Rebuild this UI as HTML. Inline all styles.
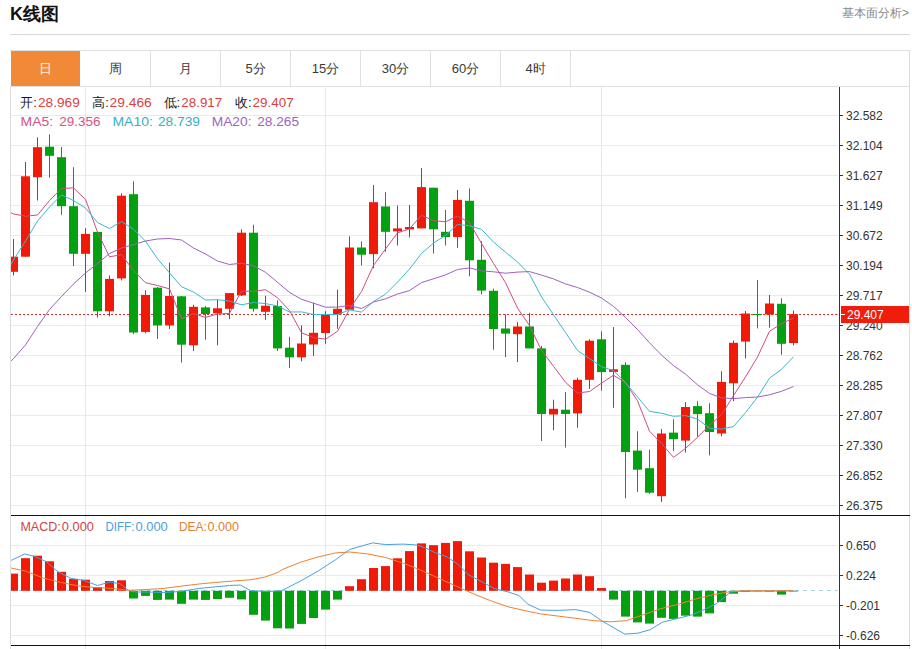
<!DOCTYPE html>
<html><head><meta charset="utf-8"><style>
html,body{margin:0;padding:0;background:#fff;width:912px;height:649px;overflow:hidden;font-family:"Liberation Sans",sans-serif;}
.title{position:absolute;left:10px;top:2px;font-size:18px;font-weight:bold;color:#111;}
.more{position:absolute;right:3px;top:5px;font-size:12px;color:#888;}
.hr{position:absolute;left:10px;top:34px;width:900px;height:1px;background:#d8d8d8;}
.tabs{position:absolute;left:10px;top:50px;width:900px;height:37px;border-top:1px solid #e0e0e0;border-bottom:1px solid #e0e0e0;box-sizing:border-box;}
.tab{position:absolute;top:51px;height:35px;line-height:35px;text-align:center;font-size:13px;color:#3a3a3a;box-sizing:border-box;border-right:1px solid #e0e0e0;}
.tab.on{background:#f18a36;color:#fff8e6;border-right:none;}
svg{position:absolute;left:0;top:0;}
.ax{font-size:12px;fill:#333;font-family:"Liberation Sans",sans-serif;}
.info{position:absolute;left:20px;top:95px;font-size:13px;color:#222;white-space:nowrap;}
.info span.v{color:#e03a3a;}
.ma{position:absolute;left:20px;top:113px;font-size:13px;white-space:nowrap;}
.macd{position:absolute;left:20px;top:519px;font-size:12px;white-space:nowrap;}
</style></head><body>
<div class="title">K线图</div>
<div class="more">基本面分析&gt;</div>
<div class="hr"></div>
<div class="tabs"></div>
<svg width="912" height="649" viewBox="0 0 912 649">
<line x1="11" y1="115.5" x2="838" y2="115.5" stroke="#eaeaea"/>
<line x1="11" y1="145.5" x2="838" y2="145.5" stroke="#eaeaea"/>
<line x1="11" y1="175.5" x2="838" y2="175.5" stroke="#eaeaea"/>
<line x1="11" y1="205.5" x2="838" y2="205.5" stroke="#eaeaea"/>
<line x1="11" y1="235.5" x2="838" y2="235.5" stroke="#eaeaea"/>
<line x1="11" y1="265.5" x2="838" y2="265.5" stroke="#eaeaea"/>
<line x1="11" y1="295.5" x2="838" y2="295.5" stroke="#eaeaea"/>
<line x1="11" y1="325.5" x2="838" y2="325.5" stroke="#eaeaea"/>
<line x1="11" y1="355.5" x2="838" y2="355.5" stroke="#eaeaea"/>
<line x1="11" y1="385.5" x2="838" y2="385.5" stroke="#eaeaea"/>
<line x1="11" y1="415.5" x2="838" y2="415.5" stroke="#eaeaea"/>
<line x1="11" y1="445.5" x2="838" y2="445.5" stroke="#eaeaea"/>
<line x1="11" y1="475.5" x2="838" y2="475.5" stroke="#eaeaea"/>
<line x1="11" y1="505.5" x2="838" y2="505.5" stroke="#eaeaea"/>
<line x1="11" y1="545.5" x2="838" y2="545.5" stroke="#eaeaea"/>
<line x1="11" y1="575.5" x2="838" y2="575.5" stroke="#eaeaea"/>
<line x1="11" y1="605.5" x2="838" y2="605.5" stroke="#eaeaea"/>
<line x1="11" y1="635.5" x2="838" y2="635.5" stroke="#eaeaea"/>
<line x1="85.5" y1="86" x2="85.5" y2="649" stroke="#e4e8ee"/>
<line x1="325.5" y1="86" x2="325.5" y2="649" stroke="#e4e8ee"/>
<line x1="601.5" y1="86" x2="601.5" y2="649" stroke="#e4e8ee"/>
<line x1="10.5" y1="86" x2="10.5" y2="649" stroke="#ddd"/>
<line x1="909.5" y1="50" x2="909.5" y2="649" stroke="#ddd"/>
<line x1="11" y1="314.5" x2="838" y2="314.5" stroke="#d83030" stroke-dasharray="2,2"/>
<rect x="13.0" y="239.0" width="1" height="36.5" fill="#f01a08"/>
<rect x="9.0" y="256.7" width="9" height="15.1" fill="#f01a08"/>
<rect x="25.0" y="162.0" width="1" height="94.7" fill="#f01a08"/>
<rect x="21.0" y="176.3" width="9" height="80.4" fill="#f01a08"/>
<rect x="37.0" y="137.3" width="1" height="63.2" fill="#f01a08"/>
<rect x="33.0" y="147.2" width="9" height="30.0" fill="#f01a08"/>
<rect x="49.0" y="134.4" width="1" height="43.3" fill="#04a010"/>
<rect x="45.0" y="146.7" width="9" height="9.1" fill="#04a010"/>
<rect x="61.0" y="147.0" width="1" height="67.8" fill="#04a010"/>
<rect x="57.0" y="157.2" width="9" height="49.0" fill="#04a010"/>
<rect x="73.0" y="167.2" width="1" height="98.9" fill="#04a010"/>
<rect x="69.0" y="206.2" width="9" height="47.6" fill="#04a010"/>
<rect x="85.0" y="228.2" width="1" height="63.6" fill="#f01a08"/>
<rect x="81.0" y="233.9" width="9" height="19.9" fill="#f01a08"/>
<rect x="97.0" y="231.9" width="1" height="85.7" fill="#04a010"/>
<rect x="93.0" y="231.9" width="9" height="79.4" fill="#04a010"/>
<rect x="109.0" y="275.5" width="1" height="40.9" fill="#f01a08"/>
<rect x="105.0" y="278.9" width="9" height="32.4" fill="#f01a08"/>
<rect x="121.0" y="193.4" width="1" height="87.0" fill="#f01a08"/>
<rect x="117.0" y="195.7" width="9" height="82.7" fill="#f01a08"/>
<rect x="133.0" y="181.4" width="1" height="152.6" fill="#04a010"/>
<rect x="129.0" y="194.2" width="9" height="138.3" fill="#04a010"/>
<rect x="145.0" y="290.3" width="1" height="43.0" fill="#f01a08"/>
<rect x="141.0" y="294.9" width="9" height="37.0" fill="#f01a08"/>
<rect x="157.0" y="287.0" width="1" height="52.0" fill="#04a010"/>
<rect x="153.0" y="287.7" width="9" height="37.7" fill="#04a010"/>
<rect x="169.0" y="262.6" width="1" height="66.4" fill="#f01a08"/>
<rect x="165.0" y="296.0" width="9" height="29.4" fill="#f01a08"/>
<rect x="181.0" y="296.0" width="1" height="66.5" fill="#04a010"/>
<rect x="177.0" y="296.3" width="9" height="48.4" fill="#04a010"/>
<rect x="193.0" y="304.8" width="1" height="46.2" fill="#f01a08"/>
<rect x="189.0" y="306.8" width="9" height="38.5" fill="#f01a08"/>
<rect x="205.0" y="306.0" width="1" height="33.6" fill="#04a010"/>
<rect x="201.0" y="307.4" width="9" height="6.6" fill="#04a010"/>
<rect x="217.0" y="299.7" width="1" height="45.6" fill="#f01a08"/>
<rect x="213.0" y="308.3" width="9" height="5.1" fill="#f01a08"/>
<rect x="229.0" y="293.0" width="1" height="26.1" fill="#f01a08"/>
<rect x="225.0" y="293.1" width="9" height="15.7" fill="#f01a08"/>
<rect x="241.0" y="229.3" width="1" height="66.7" fill="#f01a08"/>
<rect x="237.0" y="232.7" width="9" height="62.7" fill="#f01a08"/>
<rect x="253.0" y="224.7" width="1" height="87.0" fill="#04a010"/>
<rect x="249.0" y="232.7" width="9" height="76.1" fill="#04a010"/>
<rect x="265.0" y="295.7" width="1" height="24.0" fill="#f01a08"/>
<rect x="261.0" y="305.7" width="9" height="6.1" fill="#f01a08"/>
<rect x="277.0" y="300.3" width="1" height="50.7" fill="#04a010"/>
<rect x="273.0" y="306.0" width="9" height="42.4" fill="#04a010"/>
<rect x="289.0" y="336.8" width="1" height="31.3" fill="#04a010"/>
<rect x="285.0" y="347.7" width="9" height="9.6" fill="#04a010"/>
<rect x="301.0" y="325.4" width="1" height="35.9" fill="#f01a08"/>
<rect x="297.0" y="343.5" width="9" height="13.8" fill="#f01a08"/>
<rect x="313.0" y="302.8" width="1" height="53.1" fill="#f01a08"/>
<rect x="309.0" y="332.8" width="9" height="11.7" fill="#f01a08"/>
<rect x="325.0" y="311.1" width="1" height="32.8" fill="#f01a08"/>
<rect x="321.0" y="314.0" width="9" height="19.0" fill="#f01a08"/>
<rect x="337.0" y="289.7" width="1" height="39.1" fill="#f01a08"/>
<rect x="333.0" y="308.8" width="9" height="5.4" fill="#f01a08"/>
<rect x="349.0" y="236.4" width="1" height="73.6" fill="#f01a08"/>
<rect x="345.0" y="247.5" width="9" height="62.2" fill="#f01a08"/>
<rect x="361.0" y="241.3" width="1" height="24.2" fill="#04a010"/>
<rect x="357.0" y="247.5" width="9" height="7.2" fill="#04a010"/>
<rect x="373.0" y="185.1" width="1" height="83.2" fill="#f01a08"/>
<rect x="369.0" y="202.2" width="9" height="51.9" fill="#f01a08"/>
<rect x="385.0" y="192.2" width="1" height="59.6" fill="#04a010"/>
<rect x="381.0" y="206.5" width="9" height="25.3" fill="#04a010"/>
<rect x="397.0" y="205.6" width="1" height="39.9" fill="#f01a08"/>
<rect x="393.0" y="228.4" width="9" height="2.9" fill="#f01a08"/>
<rect x="409.0" y="205.0" width="1" height="32.5" fill="#f01a08"/>
<rect x="405.0" y="227.0" width="9" height="2.3" fill="#f01a08"/>
<rect x="421.0" y="168.0" width="1" height="60.4" fill="#f01a08"/>
<rect x="417.0" y="187.1" width="9" height="41.3" fill="#f01a08"/>
<rect x="433.0" y="187.7" width="1" height="65.8" fill="#04a010"/>
<rect x="429.0" y="187.7" width="9" height="41.6" fill="#04a010"/>
<rect x="445.0" y="209.9" width="1" height="35.6" fill="#04a010"/>
<rect x="441.0" y="231.8" width="9" height="5.2" fill="#04a010"/>
<rect x="457.0" y="189.9" width="1" height="57.9" fill="#f01a08"/>
<rect x="453.0" y="199.9" width="9" height="37.1" fill="#f01a08"/>
<rect x="469.0" y="188.5" width="1" height="87.8" fill="#04a010"/>
<rect x="465.0" y="200.8" width="9" height="59.5" fill="#04a010"/>
<rect x="481.0" y="241.2" width="1" height="53.3" fill="#04a010"/>
<rect x="477.0" y="259.8" width="9" height="30.8" fill="#04a010"/>
<rect x="493.0" y="288.6" width="1" height="61.2" fill="#04a010"/>
<rect x="489.0" y="290.8" width="9" height="38.2" fill="#04a010"/>
<rect x="505.0" y="314.2" width="1" height="42.8" fill="#04a010"/>
<rect x="501.0" y="328.5" width="9" height="5.1" fill="#04a010"/>
<rect x="517.0" y="322.2" width="1" height="39.9" fill="#f01a08"/>
<rect x="513.0" y="326.5" width="9" height="7.7" fill="#f01a08"/>
<rect x="529.0" y="312.8" width="1" height="35.6" fill="#04a010"/>
<rect x="525.0" y="326.5" width="9" height="21.9" fill="#04a010"/>
<rect x="541.0" y="346.0" width="1" height="95.0" fill="#04a010"/>
<rect x="537.0" y="348.4" width="9" height="65.6" fill="#04a010"/>
<rect x="553.0" y="399.7" width="1" height="30.5" fill="#f01a08"/>
<rect x="549.0" y="408.8" width="9" height="5.7" fill="#f01a08"/>
<rect x="565.0" y="392.0" width="1" height="55.6" fill="#04a010"/>
<rect x="561.0" y="409.7" width="9" height="4.3" fill="#04a010"/>
<rect x="577.0" y="377.8" width="1" height="49.9" fill="#f01a08"/>
<rect x="573.0" y="379.8" width="9" height="33.6" fill="#f01a08"/>
<rect x="589.0" y="339.3" width="1" height="49.6" fill="#f01a08"/>
<rect x="585.0" y="340.7" width="9" height="39.1" fill="#f01a08"/>
<rect x="601.0" y="331.3" width="1" height="59.3" fill="#04a010"/>
<rect x="597.0" y="339.3" width="9" height="32.8" fill="#04a010"/>
<rect x="613.0" y="327.1" width="1" height="80.7" fill="#f01a08"/>
<rect x="609.0" y="369.3" width="9" height="2.6" fill="#f01a08"/>
<rect x="625.0" y="362.2" width="1" height="136.0" fill="#04a010"/>
<rect x="621.0" y="364.8" width="9" height="87.2" fill="#04a010"/>
<rect x="637.0" y="431.2" width="1" height="60.7" fill="#04a010"/>
<rect x="633.0" y="450.6" width="9" height="19.1" fill="#04a010"/>
<rect x="649.0" y="449.7" width="1" height="44.2" fill="#04a010"/>
<rect x="645.0" y="468.2" width="9" height="24.5" fill="#04a010"/>
<rect x="661.0" y="428.9" width="1" height="73.0" fill="#f01a08"/>
<rect x="657.0" y="433.5" width="9" height="62.7" fill="#f01a08"/>
<rect x="673.0" y="419.2" width="1" height="31.9" fill="#04a010"/>
<rect x="669.0" y="432.6" width="9" height="6.6" fill="#04a010"/>
<rect x="685.0" y="402.1" width="1" height="50.5" fill="#f01a08"/>
<rect x="681.0" y="407.0" width="9" height="33.6" fill="#f01a08"/>
<rect x="697.0" y="401.2" width="1" height="35.7" fill="#04a010"/>
<rect x="693.0" y="406.1" width="9" height="8.0" fill="#04a010"/>
<rect x="709.0" y="403.2" width="1" height="52.2" fill="#04a010"/>
<rect x="705.0" y="413.2" width="9" height="18.8" fill="#04a010"/>
<rect x="721.0" y="371.3" width="1" height="65.0" fill="#f01a08"/>
<rect x="717.0" y="381.9" width="9" height="51.6" fill="#f01a08"/>
<rect x="733.0" y="340.5" width="1" height="60.7" fill="#f01a08"/>
<rect x="729.0" y="342.8" width="9" height="40.5" fill="#f01a08"/>
<rect x="745.0" y="311.0" width="1" height="47.4" fill="#f01a08"/>
<rect x="741.0" y="313.5" width="9" height="28.1" fill="#f01a08"/>
<rect x="757.0" y="280.0" width="1" height="48.4" fill="#04a010"/>
<rect x="753.0" y="314.0" width="9" height="1.0" fill="#04a010"/>
<rect x="769.0" y="295.0" width="1" height="32.7" fill="#f01a08"/>
<rect x="765.0" y="303.5" width="9" height="11.0" fill="#f01a08"/>
<rect x="781.0" y="298.2" width="1" height="56.6" fill="#04a010"/>
<rect x="777.0" y="303.8" width="9" height="40.0" fill="#04a010"/>
<rect x="793.0" y="310.6" width="1" height="34.7" fill="#f01a08"/>
<rect x="789.0" y="314.2" width="9" height="28.8" fill="#f01a08"/>
<polyline points="11,212.7 13.5,214.0 25.5,216.2 37.5,215.0 49.5,200.5 61.5,188.4 73.5,187.9 85.5,199.4 97.5,232.2 109.5,256.8 121.5,254.7 133.5,270.5 145.5,282.7 157.5,285.5 169.5,288.9 181.5,318.7 193.5,313.6 205.5,317.4 217.5,314.0 229.5,313.4 241.5,291.0 253.5,291.4 265.5,289.7 277.5,297.7 289.5,310.6 301.5,332.7 313.5,337.5 325.5,339.2 337.5,331.3 349.5,309.3 361.5,291.6 373.5,265.4 385.5,249.0 397.5,232.9 409.5,228.8 421.5,215.3 433.5,220.7 445.5,221.8 457.5,216.1 469.5,222.7 481.5,243.4 493.5,263.4 505.5,282.7 517.5,308.0 529.5,325.6 541.5,350.3 553.5,366.3 565.5,382.3 577.5,393.0 589.5,391.5 601.5,383.1 613.5,375.2 625.5,382.8 637.5,400.8 649.5,431.2 661.5,443.4 673.5,457.4 685.5,448.4 697.5,437.3 709.5,425.2 721.5,414.8 733.5,395.6 745.5,376.9 757.5,357.0 769.5,331.3 781.5,323.7 793.5,318.0" fill="none" stroke="#d04c84" stroke-width="1"/>
<polyline points="11,264.7 13.5,260.0 25.5,241.0 37.5,221.0 49.5,207.0 61.5,195.0 73.5,200.6 85.5,208.0 97.5,222.5 109.5,228.5 121.5,221.6 133.5,229.2 145.5,241.0 157.5,258.8 169.5,272.9 181.5,286.7 193.5,292.0 205.5,300.0 217.5,299.7 229.5,301.1 241.5,304.8 253.5,302.5 265.5,303.6 277.5,305.9 289.5,312.0 301.5,311.9 313.5,314.5 325.5,314.5 337.5,314.5 349.5,309.9 361.5,312.1 373.5,301.5 385.5,294.1 397.5,282.1 409.5,269.1 421.5,253.4 433.5,243.1 445.5,235.4 457.5,224.5 469.5,225.8 481.5,229.4 493.5,242.0 505.5,252.2 517.5,262.0 529.5,274.2 541.5,296.9 553.5,314.8 565.5,332.5 577.5,350.5 589.5,358.5 601.5,366.7 613.5,370.7 625.5,382.6 637.5,396.9 649.5,411.3 661.5,413.3 673.5,416.3 685.5,415.6 697.5,419.0 709.5,428.2 721.5,429.1 733.5,426.5 745.5,412.6 757.5,397.2 769.5,378.2 781.5,369.3 793.5,356.8" fill="none" stroke="#3cb8d0" stroke-width="1"/>
<polyline points="11,361.2 13.5,358.5 25.5,345.0 37.5,326.5 49.5,309.5 61.5,296.5 73.5,284.0 85.5,273.0 97.5,263.5 109.5,253.5 121.5,248.0 133.5,244.5 145.5,241.0 157.5,239.0 169.5,238.5 181.5,240.0 193.5,248.0 205.5,254.0 217.5,261.0 229.5,264.5 241.5,263.2 253.5,265.8 265.5,272.3 277.5,282.3 289.5,292.4 301.5,299.3 313.5,303.2 325.5,307.2 337.5,307.1 349.5,305.5 361.5,308.5 373.5,302.0 385.5,298.8 397.5,294.0 409.5,290.5 421.5,282.6 433.5,278.8 445.5,274.9 457.5,269.5 469.5,267.9 481.5,270.8 493.5,271.8 505.5,273.2 517.5,272.1 529.5,271.6 541.5,275.1 553.5,278.9 565.5,283.9 577.5,287.5 589.5,292.2 601.5,298.0 613.5,306.4 625.5,317.4 637.5,329.5 649.5,342.7 661.5,355.1 673.5,365.6 685.5,374.1 697.5,384.8 709.5,393.4 721.5,397.9 733.5,398.6 745.5,397.6 757.5,397.0 769.5,394.8 781.5,391.3 793.5,386.5" fill="none" stroke="#a060bc" stroke-width="1"/>
<line x1="11" y1="590.5" x2="838" y2="590.5" stroke="#a8d0e8" stroke-dasharray="4,4"/>
<rect x="9.0" y="573.6" width="9" height="17.2" fill="#f01a08"/>
<rect x="21.0" y="558.2" width="9" height="32.6" fill="#f01a08"/>
<rect x="33.0" y="555.7" width="9" height="35.1" fill="#f01a08"/>
<rect x="45.0" y="561.3" width="9" height="29.5" fill="#f01a08"/>
<rect x="57.0" y="571.8" width="9" height="19.0" fill="#f01a08"/>
<rect x="69.0" y="578.9" width="9" height="11.9" fill="#f01a08"/>
<rect x="81.0" y="579.7" width="9" height="11.1" fill="#f01a08"/>
<rect x="93.0" y="587.1" width="9" height="3.7" fill="#f01a08"/>
<rect x="105.0" y="581.0" width="9" height="9.8" fill="#f01a08"/>
<rect x="117.0" y="580.3" width="9" height="10.5" fill="#f01a08"/>
<rect x="129.0" y="590.8" width="9" height="7.7" fill="#04a010"/>
<rect x="141.0" y="590.8" width="9" height="5.1" fill="#04a010"/>
<rect x="153.0" y="590.8" width="9" height="9.1" fill="#04a010"/>
<rect x="165.0" y="590.8" width="9" height="8.8" fill="#04a010"/>
<rect x="177.0" y="590.8" width="9" height="13.0" fill="#04a010"/>
<rect x="189.0" y="590.8" width="9" height="8.8" fill="#04a010"/>
<rect x="201.0" y="590.8" width="9" height="9.1" fill="#04a010"/>
<rect x="213.0" y="590.8" width="9" height="8.2" fill="#04a010"/>
<rect x="225.0" y="590.8" width="9" height="7.0" fill="#04a010"/>
<rect x="237.0" y="590.8" width="9" height="8.6" fill="#04a010"/>
<rect x="249.0" y="590.8" width="9" height="24.0" fill="#04a010"/>
<rect x="261.0" y="590.8" width="9" height="29.8" fill="#04a010"/>
<rect x="273.0" y="590.8" width="9" height="37.5" fill="#04a010"/>
<rect x="285.0" y="590.8" width="9" height="37.7" fill="#04a010"/>
<rect x="297.0" y="590.8" width="9" height="33.1" fill="#04a010"/>
<rect x="309.0" y="590.8" width="9" height="27.2" fill="#04a010"/>
<rect x="321.0" y="590.8" width="9" height="18.8" fill="#04a010"/>
<rect x="333.0" y="590.8" width="9" height="8.8" fill="#04a010"/>
<rect x="345.0" y="586.2" width="9" height="4.6" fill="#f01a08"/>
<rect x="357.0" y="579.2" width="9" height="11.6" fill="#f01a08"/>
<rect x="369.0" y="568.0" width="9" height="22.8" fill="#f01a08"/>
<rect x="381.0" y="566.1" width="9" height="24.7" fill="#f01a08"/>
<rect x="393.0" y="558.3" width="9" height="32.5" fill="#f01a08"/>
<rect x="405.0" y="551.1" width="9" height="39.7" fill="#f01a08"/>
<rect x="417.0" y="543.4" width="9" height="47.4" fill="#f01a08"/>
<rect x="429.0" y="545.2" width="9" height="45.6" fill="#f01a08"/>
<rect x="441.0" y="542.9" width="9" height="47.9" fill="#f01a08"/>
<rect x="453.0" y="541.1" width="9" height="49.7" fill="#f01a08"/>
<rect x="465.0" y="551.3" width="9" height="39.5" fill="#f01a08"/>
<rect x="477.0" y="557.5" width="9" height="33.3" fill="#f01a08"/>
<rect x="489.0" y="562.7" width="9" height="28.1" fill="#f01a08"/>
<rect x="501.0" y="563.9" width="9" height="26.9" fill="#f01a08"/>
<rect x="513.0" y="567.1" width="9" height="23.7" fill="#f01a08"/>
<rect x="525.0" y="574.5" width="9" height="16.3" fill="#f01a08"/>
<rect x="537.0" y="582.7" width="9" height="8.1" fill="#f01a08"/>
<rect x="549.0" y="580.6" width="9" height="10.2" fill="#f01a08"/>
<rect x="561.0" y="578.5" width="9" height="12.3" fill="#f01a08"/>
<rect x="573.0" y="574.5" width="9" height="16.3" fill="#f01a08"/>
<rect x="585.0" y="576.2" width="9" height="14.6" fill="#f01a08"/>
<rect x="597.0" y="588.0" width="9" height="2.8" fill="#f01a08"/>
<rect x="609.0" y="590.8" width="9" height="8.8" fill="#04a010"/>
<rect x="621.0" y="590.8" width="9" height="25.8" fill="#04a010"/>
<rect x="633.0" y="590.8" width="9" height="31.6" fill="#04a010"/>
<rect x="645.0" y="590.8" width="9" height="32.8" fill="#04a010"/>
<rect x="657.0" y="590.8" width="9" height="27.0" fill="#04a010"/>
<rect x="669.0" y="590.8" width="9" height="28.1" fill="#04a010"/>
<rect x="681.0" y="590.8" width="9" height="24.9" fill="#04a010"/>
<rect x="693.0" y="590.8" width="9" height="25.8" fill="#04a010"/>
<rect x="705.0" y="590.8" width="9" height="22.6" fill="#04a010"/>
<rect x="717.0" y="590.8" width="9" height="11.3" fill="#04a010"/>
<rect x="729.0" y="590.8" width="9" height="2.9" fill="#04a010"/>
<rect x="741.0" y="590.8" width="9" height="1.0" fill="#04a010"/>
<rect x="753.0" y="590.8" width="9" height="0.5" fill="#04a010"/>
<rect x="765.0" y="590.8" width="9" height="0.8" fill="#04a010"/>
<rect x="777.0" y="590.8" width="9" height="3.8" fill="#04a010"/>
<rect x="789.0" y="590.8" width="9" height="0.7" fill="#04a010"/>
<polyline points="11.2,560.4 24.7,553.9 34.3,556.4 45.7,561.3 58.0,571.8 71.2,578.5 83.4,580.3 97.5,585.5 109.8,582.0 120.3,583.8 129.0,590.8 136.1,592.0 146.6,592.0 163.1,592.5 180.6,591.5 198.2,588.5 215.7,586.8 229.8,585.5 240.3,585.0 250.8,590.8 268.4,591.5 281.3,590.8 300.6,581.0 318.2,571.0 335.7,559.6 349.8,549.4 372.6,542.9 385.5,544.6 403.1,544.1 417.1,545.0 425.9,548.2 434.7,552.5 447.0,556.9 457.5,563.9 468.0,574.5 480.3,581.0 494.3,588.5 508.4,592.0 518.9,595.5 528.0,604.3 540.6,610.1 558.2,610.4 575.7,609.6 589.8,612.5 602.0,621.0 624.8,634.1 637.8,633.2 650.1,629.7 662.4,622.2 678.2,618.3 692.2,614.8 706.2,608.7 716.8,603.4 730.8,592.0 741.3,591.1 793.5,590.8" fill="none" stroke="#4aa0e0" stroke-width="1"/>
<polyline points="11.2,568.0 25.5,571.0 43.1,578.0 60.6,582.4 78.2,585.9 95.7,587.6 113.3,588.5 129.0,590.3 148.4,589.4 163.0,588.5 180.6,586.2 198.2,584.1 215.7,582.4 233.3,581.0 250.8,579.7 264.8,577.1 277.1,572.7 283.1,569.2 300.6,562.2 318.2,556.9 335.7,552.9 349.8,552.0 367.3,553.9 385.5,557.5 403.1,563.1 420.6,570.1 438.2,578.0 455.7,585.9 473.3,593.8 490.8,600.8 508.4,606.9 528.0,611.3 540.6,613.9 558.2,616.1 575.7,618.3 593.3,620.6 610.8,621.8 626.6,620.6 643.1,614.8 660.6,608.7 678.2,604.3 695.7,599.0 713.3,594.6 730.8,591.5 743.1,590.8 793.5,590.8" fill="none" stroke="#f08030" stroke-width="1"/>
<rect x="0" y="86" width="10" height="563" fill="#fff"/>
<line x1="10.5" y1="86" x2="10.5" y2="649" stroke="#ddd"/>
<line x1="839.5" y1="87" x2="839.5" y2="649" stroke="#333"/>
<line x1="11" y1="515.5" x2="910" y2="515.5" stroke="#111"/>
<line x1="11" y1="645.5" x2="910" y2="645.5" stroke="#111"/>
<line x1="839" y1="115.5" x2="843" y2="115.5" stroke="#333"/>
<text x="846" y="120.0" class="ax">32.582</text>
<line x1="839" y1="145.5" x2="843" y2="145.5" stroke="#333"/>
<text x="846" y="150.0" class="ax">32.104</text>
<line x1="839" y1="175.5" x2="843" y2="175.5" stroke="#333"/>
<text x="846" y="180.0" class="ax">31.627</text>
<line x1="839" y1="205.5" x2="843" y2="205.5" stroke="#333"/>
<text x="846" y="210.0" class="ax">31.149</text>
<line x1="839" y1="235.5" x2="843" y2="235.5" stroke="#333"/>
<text x="846" y="240.0" class="ax">30.672</text>
<line x1="839" y1="265.5" x2="843" y2="265.5" stroke="#333"/>
<text x="846" y="270.0" class="ax">30.194</text>
<line x1="839" y1="295.5" x2="843" y2="295.5" stroke="#333"/>
<text x="846" y="300.0" class="ax">29.717</text>
<line x1="839" y1="325.5" x2="843" y2="325.5" stroke="#333"/>
<text x="846" y="330.0" class="ax">29.240</text>
<line x1="839" y1="355.5" x2="843" y2="355.5" stroke="#333"/>
<text x="846" y="360.0" class="ax">28.762</text>
<line x1="839" y1="385.5" x2="843" y2="385.5" stroke="#333"/>
<text x="846" y="390.0" class="ax">28.285</text>
<line x1="839" y1="415.5" x2="843" y2="415.5" stroke="#333"/>
<text x="846" y="420.0" class="ax">27.807</text>
<line x1="839" y1="445.5" x2="843" y2="445.5" stroke="#333"/>
<text x="846" y="450.0" class="ax">27.330</text>
<line x1="839" y1="475.5" x2="843" y2="475.5" stroke="#333"/>
<text x="846" y="480.0" class="ax">26.852</text>
<line x1="839" y1="505.5" x2="843" y2="505.5" stroke="#333"/>
<text x="846" y="510.0" class="ax">26.375</text>
<line x1="839" y1="545.5" x2="843" y2="545.5" stroke="#333"/>
<text x="846" y="550.0" class="ax">0.650</text>
<line x1="839" y1="575.5" x2="843" y2="575.5" stroke="#333"/>
<text x="846" y="580.0" class="ax">0.224</text>
<line x1="839" y1="605.5" x2="843" y2="605.5" stroke="#333"/>
<text x="846" y="610.0" class="ax">-0.201</text>
<line x1="839" y1="635.5" x2="843" y2="635.5" stroke="#333"/>
<text x="846" y="640.0" class="ax">-0.626</text>
<rect x="841" y="306" width="68" height="17" fill="#f01c0c"/>
<line x1="841" y1="314.5" x2="845" y2="314.5" stroke="#fff"/>
<text x="847" y="319" class="ax" fill="#fff" style="fill:#fff">29.407</text>
<text x="20.2" y="107.4" fill="#1a1a1a" font-size="13" font-family="Liberation Sans, sans-serif">开:</text>
<text x="38.0" y="107.4" fill="#dc4040" font-size="13" font-family="Liberation Sans, sans-serif" textLength="41.8" lengthAdjust="spacingAndGlyphs">28.969</text>
<text x="92.2" y="107.4" fill="#1a1a1a" font-size="13" font-family="Liberation Sans, sans-serif">高:</text>
<text x="109.5" y="107.4" fill="#dc4040" font-size="13" font-family="Liberation Sans, sans-serif" textLength="42.3" lengthAdjust="spacingAndGlyphs">29.466</text>
<text x="163.5" y="107.4" fill="#1a1a1a" font-size="13" font-family="Liberation Sans, sans-serif">低:</text>
<text x="181.3" y="107.4" fill="#dc4040" font-size="13" font-family="Liberation Sans, sans-serif" textLength="40.9" lengthAdjust="spacingAndGlyphs">28.917</text>
<text x="235.0" y="107.4" fill="#1a1a1a" font-size="13" font-family="Liberation Sans, sans-serif">收:</text>
<text x="252.5" y="107.4" fill="#dc4040" font-size="13" font-family="Liberation Sans, sans-serif" textLength="41.3" lengthAdjust="spacingAndGlyphs">29.407</text>
<text x="20.5" y="125.5" fill="#d8508a" font-size="13" font-family="Liberation Sans, sans-serif" textLength="32.6" lengthAdjust="spacingAndGlyphs">MA5:</text>
<text x="59.3" y="125.5" fill="#d8508a" font-size="13" font-family="Liberation Sans, sans-serif" textLength="41.2" lengthAdjust="spacingAndGlyphs">29.356</text>
<text x="112.5" y="125.5" fill="#38afc4" font-size="13" font-family="Liberation Sans, sans-serif" textLength="40.3" lengthAdjust="spacingAndGlyphs">MA10:</text>
<text x="157.9" y="125.5" fill="#38afc4" font-size="13" font-family="Liberation Sans, sans-serif" textLength="42.1" lengthAdjust="spacingAndGlyphs">28.739</text>
<text x="211.7" y="125.5" fill="#a064bc" font-size="13" font-family="Liberation Sans, sans-serif" textLength="39.8" lengthAdjust="spacingAndGlyphs">MA20:</text>
<text x="257.2" y="125.5" fill="#a064bc" font-size="13" font-family="Liberation Sans, sans-serif" textLength="41.9" lengthAdjust="spacingAndGlyphs">28.265</text>
<text x="20.4" y="531" fill="#cc4444" font-size="12" font-family="Liberation Sans, sans-serif" textLength="40.3" lengthAdjust="spacingAndGlyphs">MACD:</text>
<text x="61.8" y="531" fill="#cc4444" font-size="12" font-family="Liberation Sans, sans-serif" textLength="32.1" lengthAdjust="spacingAndGlyphs">0.000</text>
<text x="105.5" y="531" fill="#4aa0e0" font-size="12" font-family="Liberation Sans, sans-serif" textLength="28.9" lengthAdjust="spacingAndGlyphs">DIFF:</text>
<text x="135.4" y="531" fill="#4aa0e0" font-size="12" font-family="Liberation Sans, sans-serif" textLength="32.4" lengthAdjust="spacingAndGlyphs">0.000</text>
<text x="179.0" y="531" fill="#e08030" font-size="12" font-family="Liberation Sans, sans-serif" textLength="27.8" lengthAdjust="spacingAndGlyphs">DEA:</text>
<text x="207.4" y="531" fill="#e08030" font-size="12" font-family="Liberation Sans, sans-serif" textLength="31.5" lengthAdjust="spacingAndGlyphs">0.000</text>
</svg>
<div class="tab on" style="left:11px;width:69px">日</div><div class="tab" style="left:81px;width:70px">周</div><div class="tab" style="left:151px;width:70px">月</div><div class="tab" style="left:221px;width:70px">5分</div><div class="tab" style="left:291px;width:70px">15分</div><div class="tab" style="left:361px;width:70px">30分</div><div class="tab" style="left:431px;width:70px">60分</div><div class="tab" style="left:501px;width:70px">4时</div>
</body></html>
